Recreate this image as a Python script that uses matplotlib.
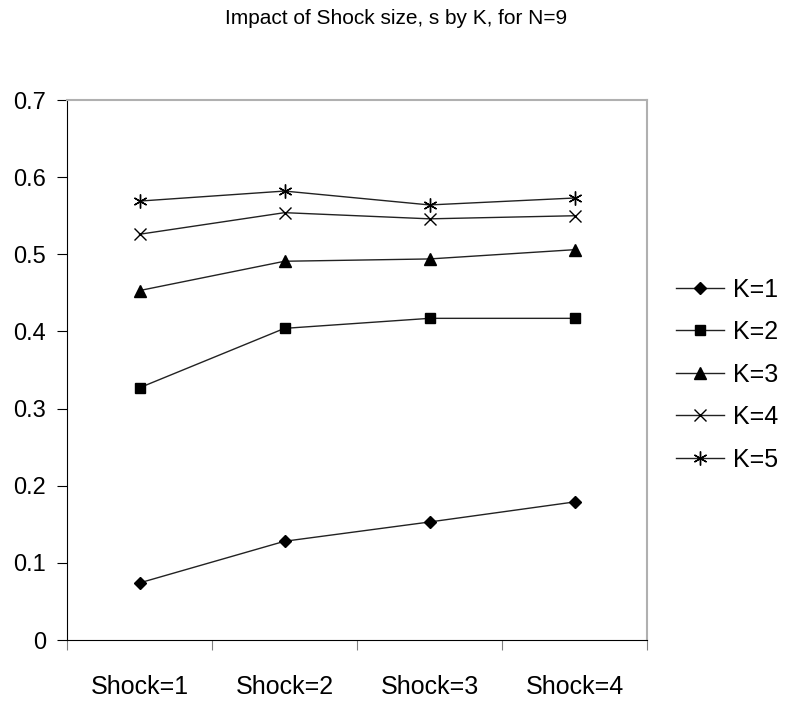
import matplotlib.pyplot as plt
import numpy as np

plt.rcParams['font.family'] = ['Liberation Sans', 'DejaVu Sans']

categories = ['Shock=1', 'Shock=2', 'Shock=3', 'Shock=4']
series_names = ['K=1', 'K=2', 'K=3', 'K=4', 'K=5']
k1 = [0.074, 0.128, 0.153, 0.179]
k2 = [0.327, 0.404, 0.417, 0.417]
k3 = [0.453, 0.491, 0.494, 0.506]
k4 = [0.526, 0.554, 0.546, 0.550]
k5 = [0.569, 0.582, 0.564, 0.573]
series = [k1, k2, k3, k4, k5]
markers = ['D', 's', '^', 'x', (6, 2, 0)]
msizes = [6.5, 7, 8, 9, 10]

fig = plt.figure(figsize=(7.92, 7.04), dpi=100)
ax = fig.add_axes([0.0846, 0.0909, 0.7324, 0.7670])

x = np.arange(len(categories)) + 0.5
for vals, name, m, ms in zip(series, series_names, markers, msizes):
    ax.plot(x, vals, color='#222222', lw=1.0, marker=m, markersize=ms,
            markerfacecolor='black', markeredgecolor='black',
            markeredgewidth=1.0, label=name)

ax.set_xlim(0, 4)
ax.set_ylim(0, 0.7)
ax.set_yticks(np.arange(0, 0.71, 0.1))
ax.set_yticklabels(['0', '0.1', '0.2', '0.3', '0.4', '0.5', '0.6', '0.7'])
ax.set_xticks(np.arange(0, 5))
ax.set_xticklabels([])
ax.set_xticks(x, minor=True)
ax.set_xticklabels(categories, minor=True)
ax.tick_params(axis='x', which='minor', length=0, pad=25, labelsize=18)
ax.tick_params(axis='x', which='major', direction='out', length=7, color='#808080')
ax.tick_params(axis='y', direction='out', length=7, labelsize=17, pad=8)

for side in ['top', 'right']:
    ax.spines[side].set_color('#b0b0b0')
    ax.spines[side].set_linewidth(1.5)
ax.spines['left'].set_color('black')
ax.spines['bottom'].set_color('black')

fig.text(0.5, 0.974, 'Impact of Shock size, s by K, for N=9',
         ha='center', va='center', fontsize=15)

leg = ax.legend(loc='upper left', bbox_to_anchor=(1.05, 0.671), frameon=False,
                fontsize=18, handlelength=1.9, labelspacing=0.74,
                handletextpad=0.36, borderpad=0.0, borderaxespad=0.0)

plt.savefig('out.png', dpi=100)
